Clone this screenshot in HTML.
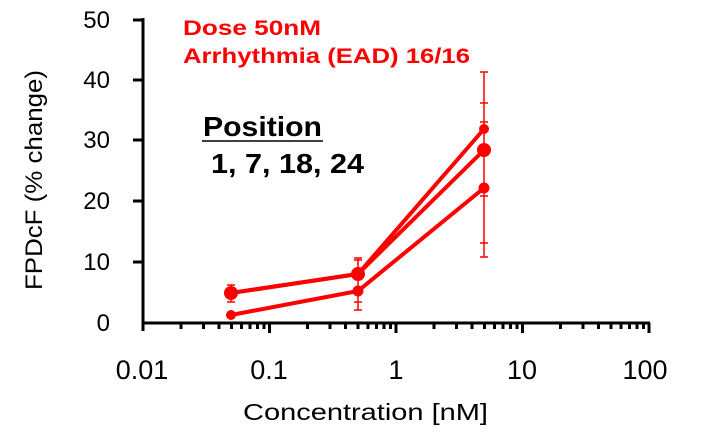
<!DOCTYPE html><html><head><style>body{margin:0;background:#fff}</style></head><body>
<svg width="720" height="440" xmlns="http://www.w3.org/2000/svg" font-family="Liberation Sans, Arial, sans-serif">
<g stroke="#000" stroke-width="3" fill="none">
<line x1="143" y1="18" x2="143" y2="331"/>
<line x1="142" y1="323" x2="650" y2="323"/>
<line x1="133" y1="20" x2="143" y2="20"/><line x1="133" y1="80" x2="143" y2="80"/><line x1="133" y1="140" x2="143" y2="140"/><line x1="133" y1="201" x2="143" y2="201"/><line x1="133" y1="262" x2="143" y2="262"/>
<path d="M181 323v6M203.5 323v6M219 323v6M231.5 323v6M241.5 323v6M250 323v6M257.5 323v6M264 323v6M269.5 323v10M307.5 323v6M330 323v6M345.5 323v6M358 323v6M368 323v6M376.5 323v6M384 323v6M390.5 323v6M396 323v10M434 323v6M456.5 323v6M472 323v6M484.5 323v6M494.5 323v6M503 323v6M510.5 323v6M517 323v6M522.5 323v10M560.5 323v6M583 323v6M598.5 323v6M611 323v6M621 323v6M629.5 323v6M637 323v6M643.5 323v6M649 323v10"/>
</g>
<g font-size="24" text-anchor="end" fill="#000">
<text x="110" y="28">50</text><text x="110" y="88">40</text><text x="110" y="148">30</text><text x="110" y="209">20</text><text x="110" y="270">10</text><text x="110" y="331">0</text>
</g>
<g font-size="27" text-anchor="middle" fill="#000">
<text x="142" y="379">0.01</text><text x="269" y="379">0.1</text><text x="396" y="379">1</text><text x="522" y="379">10</text><text x="645" y="379">100</text>
</g>
<text x="243" y="420" font-size="23" textLength="245" lengthAdjust="spacingAndGlyphs">Concentration [nM]</text>
<text transform="translate(42,180) rotate(-90)" font-size="24" text-anchor="middle" textLength="220" lengthAdjust="spacingAndGlyphs">FPDcF (% change)</text>
<g stroke="#f00" stroke-width="1.5">
<path d="M484 72v185M480 72h8M480 103h8M480 122h8M480 196h8M480 243h8M480 257h8M358 258v52M354 258h8M354 260h8M354 302h8M354 310h8M231 285v17M227 285h8M227 302h8"/>
</g>
<g stroke="#f00" stroke-width="4" fill="none">
<polyline points="231,293 358,274 484,150"/>
<polyline points="231,293 358,274 484,129"/>
<polyline points="231,315 358,291 484,188"/>
</g>
<g fill="#f00">
<circle cx="231" cy="293" r="7"/><circle cx="358" cy="274" r="7"/><circle cx="484" cy="150" r="7"/><circle cx="484" cy="129" r="5"/><circle cx="231" cy="315" r="5"/><circle cx="358" cy="291" r="5.5"/><circle cx="484" cy="188" r="5.5"/>
</g>
<g fill="#f00" font-weight="bold" font-size="21"><text x="183" y="35" textLength="138" lengthAdjust="spacingAndGlyphs">Dose 50nM</text><text x="183" y="63" textLength="287" lengthAdjust="spacingAndGlyphs">Arrhythmia (EAD) 16/16</text></g>
<text x="203" y="136" font-size="28" font-weight="bold" textLength="119" lengthAdjust="spacingAndGlyphs">Position</text>
<line x1="202" y1="141" x2="323" y2="141" stroke="#000" stroke-width="1.5"/>
<text x="211" y="173" font-size="28" font-weight="bold" textLength="153" lengthAdjust="spacingAndGlyphs">1, 7, 18, 24</text>
</svg></body></html>
